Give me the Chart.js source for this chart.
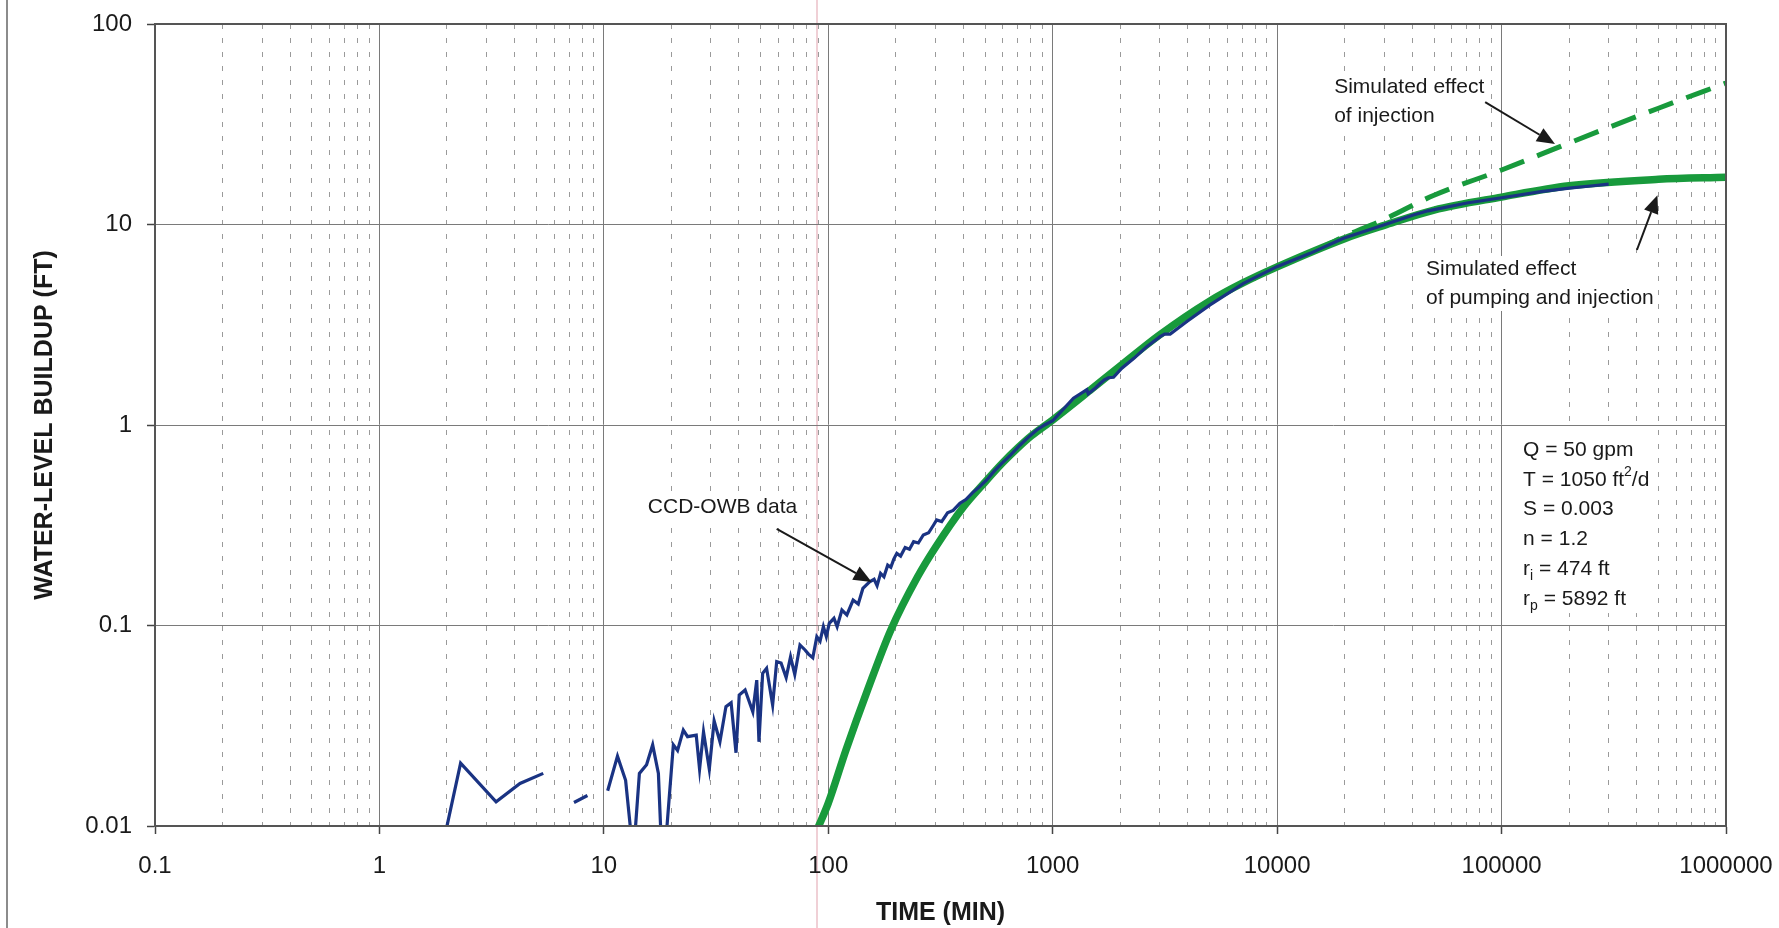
<!DOCTYPE html>
<html>
<head>
<meta charset="utf-8">
<title>Water-level buildup</title>
<script src="https://cdn.jsdelivr.net/npm/chart.js@4.4.1/dist/chart.umd.min.js"></script>
<style>
  html, body { margin: 0; padding: 0; background: #fff; }
  #wrap { width: 1779px; height: 928px; position: relative; }
</style>
</head>
<body>
<div id="wrap"><canvas id="buildupChart" width="1779" height="928"></canvas></div>
<script>
// axis decades and their labels
const xDecades = [0.1, 1, 10, 100, 1000, 10000, 100000, 1000000];
const xTickLabels = ['0.1', '1', '10', '100', '1000', '10000', '100000', '1000000'];
const yDecades = [0.01, 0.1, 1, 10, 100];
const yTickLabels = ['0.01', '0.1', '1', '10', '100'];

// CCD-OWB observed buildup (null = no record)
const blueTime = [1.98, 2.3, 3.31, 4.23, 5.37, 6.3, 7.36, 8.45, 9.3, 10.4, 11.5, 12.5, 13.3, 13.7, 14.4, 15.5, 16.5, 17.5, 18.0, 18.9,
  20.4, 21.3, 22.6, 23.6, 25.8, 26.7, 27.8, 29.5, 31.0, 32.9, 35.0, 36.9, 38.8, 40.1, 42.6, 46.1, 48.0, 49.1, 51.0, 53.1,
  56.5, 58.9, 61.6, 64.9, 67.9, 70.9, 74.8, 78.8, 81.6, 85.3, 88.9, 91.9, 95.1, 98.0, 101, 106, 109.5, 115, 121, 129,
  136, 142.6, 152.8, 160, 165, 171, 177, 184, 190, 196, 202, 210, 220, 230, 240, 252, 265, 280, 295, 304,
  320, 340, 360, 386, 410, 440, 470, 508, 550, 593, 650, 716, 780, 849, 920, 1000, 1237, 1419, 1440, 1550,
  1626, 1700, 1771, 1866, 2032, 2300, 2623, 3010, 3150, 3337, 3960, 5024, 7080, 9970, 14030, 19750, 29800, 40450, 47000, 70000,
  100000, 150000, 200000, 255000, 300000];
const blueLevel = [0.0095, 0.0206, 0.0132, 0.0163, 0.0183, null, 0.0131, 0.0142, null, 0.015, 0.0223, 0.0169, 0.0085, 0.0085, 0.0183, 0.0202, 0.0254, 0.0183, 0.0085, 0.0085,
  0.0254, 0.0238, 0.0301, 0.0279, 0.0284, 0.0192, 0.0295, 0.0192, 0.0334, 0.0263, 0.0394, 0.0412, 0.0232, 0.045, 0.0477, 0.0371, 0.0534, 0.0263, 0.0578, 0.0612,
  0.0401, 0.066, 0.065, 0.055, 0.0698, 0.057, 0.080, 0.0755, 0.072, 0.069, 0.088, 0.0835, 0.0987, 0.088, 0.1025, 0.1086, 0.0987, 0.1195, 0.113, 0.134,
  0.128, 0.153, 0.165, 0.17, 0.158, 0.182, 0.175, 0.2, 0.195, 0.215, 0.229, 0.222, 0.245, 0.24, 0.262, 0.258, 0.283, 0.29, 0.318, 0.336,
  0.33, 0.365, 0.375, 0.407, 0.425, 0.46, 0.49, 0.532, 0.59, 0.644, 0.71, 0.795, 0.87, 0.944, 1.0, 1.05, 1.36, 1.5, 1.43, 1.53,
  1.61, 1.68, 1.72, 1.73, 1.92, 2.15, 2.46, 2.76, 2.84, 2.84, 3.28, 3.97, 5.09, 6.16, 7.18, 8.53, 9.94, 11.15, 11.7, 12.8,
  13.6, 14.6, 15.2, 15.6, 15.9];

// simulated effect of pumping and injection
const pumpTime = [90, 100, 120, 150, 190, 250, 300, 400, 500, 600, 700, 800, 1000, 1500, 2000, 3000, 5000, 7000, 10000, 20000, 30000, 50000, 100000, 200000, 500000, 1000000];
const pumpLevel = [0.0098, 0.013, 0.024, 0.048, 0.095, 0.175, 0.245, 0.39, 0.52, 0.65, 0.77, 0.88, 1.06, 1.52, 1.97, 2.82, 4.15, 5.1, 6.15, 8.5, 9.9, 11.8, 13.7, 15.6, 16.8, 17.2];

// simulated effect of injection only
const injTime = [15000, 20000, 30000, 50000, 100000, 200000, 500000, 1000000];
const injLevel = [7.45, 8.75, 10.6, 14.0, 18.7, 25.5, 38, 50.8];

// callouts: text anchored at [time, level], arrows from -> to
const callouts = [
  { at: [17950, 48.5], lines: [[{ t: 'Simulated effect' }], [{ t: 'of injection' }]], from: [84500, 40.8], to: [173000, 25.2] },
  { at: [46100, 6.0], lines: [[{ t: 'Simulated effect' }], [{ t: 'of pumping and injection' }]], from: [401000, 7.46], to: [495000, 14.0] },
  { at: [15.7, 0.39], lines: [[{ t: 'CCD-OWB data' }]], from: [58.9, 0.303], to: [156, 0.165] }
];
const paramAnchor = [124700, 0.75];
const paramLines = [
  [{ t: 'Q = 50 gpm' }],
  [{ t: 'T = 1050 ft' }, { t: '2', sup: true }, { t: '/d' }],
  [{ t: 'S = 0.003' }],
  [{ t: 'n = 1.2' }],
  [{ t: 'r' }, { t: 'i', sub: true }, { t: ' = 474 ft' }],
  [{ t: 'r' }, { t: 'p', sub: true }, { t: ' = 5892 ft' }]
];

const FONT = '"Liberation Sans", Arial, Helvetica, sans-serif';
Chart.defaults.font.family = FONT;
Chart.defaults.color = '#1a1a1a';

const onDecade = (list, v) => list.some(d => Math.abs(v / d - 1) < 1e-9);
const xGridValues = [];
xDecades.forEach((d, i) => {
  for (let k = 1; k <= 9; k++) {
    if (i === xDecades.length - 1 && k > 1) break;
    xGridValues.push(k === 1 ? d : d * k);
  }
});

function toPoints(xs, ys) {
  return xs.map((x, i) => ({ x: x, y: ys[i] }));
}

function lineWidthOf(ctx, segs) {
  let w = 0;
  segs.forEach(s => {
    ctx.font = (s.sub || s.sup ? '14px ' : '21px ') + FONT;
    w += ctx.measureText(s.t).width;
  });
  return w;
}

function drawSegs(ctx, segs, x, y) {
  segs.forEach(s => {
    let dy = 0;
    if (s.sub) dy = 7;
    if (s.sup) dy = -8;
    ctx.font = (s.sub || s.sup ? '14px ' : '21px ') + FONT;
    ctx.fillText(s.t, x, y + dy);
    x += ctx.measureText(s.t).width;
  });
}

function drawArrow(ctx, x1, y1, x2, y2) {
  const ang = Math.atan2(y2 - y1, x2 - x1);
  const head = 18, half = 7.5;
  const bx = x2 - head * Math.cos(ang), by = y2 - head * Math.sin(ang);
  ctx.strokeStyle = '#1a1a1a';
  ctx.fillStyle = '#1a1a1a';
  ctx.lineWidth = 2;
  ctx.beginPath();
  ctx.moveTo(x1, y1);
  ctx.lineTo(bx, by);
  ctx.stroke();
  ctx.beginPath();
  ctx.moveTo(x2, y2);
  ctx.lineTo(bx + half * Math.sin(ang), by - half * Math.cos(ang));
  ctx.lineTo(bx - half * Math.sin(ang), by + half * Math.cos(ang));
  ctx.closePath();
  ctx.fill();
}

const notesPlugin = {
  id: 'notes',
  beforeDraw(chart) {
    // scanned page edge and a faint scan streak
    const ctx = chart.ctx;
    ctx.save();
    ctx.strokeStyle = '#8c8c8c';
    ctx.lineWidth = 2;
    ctx.beginPath();
    ctx.moveTo(7, 0);
    ctx.lineTo(7, chart.height);
    ctx.stroke();
    ctx.strokeStyle = 'rgba(236, 196, 204, 0.8)';
    ctx.beginPath();
    ctx.moveTo(817, 0);
    ctx.lineTo(817, chart.height);
    ctx.stroke();
    ctx.restore();
  },
  afterDatasetsDraw(chart) {
    const ctx = chart.ctx;
    const xs = chart.scales.x, ys = chart.scales.y;
    const px = v => xs.getPixelForValue(v);
    const py = v => ys.getPixelForValue(v);
    const area = chart.chartArea;
    ctx.save();
    ctx.textBaseline = 'middle';
    ctx.textAlign = 'left';

    // frame
    ctx.strokeStyle = '#555';
    ctx.lineWidth = 2;
    ctx.strokeRect(area.left, area.top, area.right - area.left, area.bottom - area.top);

    // callouts
    callouts.forEach(c => {
      const x0 = px(c.at[0]), y0 = py(c.at[1]);
      const step = 29;
      const w = Math.max(...c.lines.map(l => lineWidthOf(ctx, l)));
      ctx.fillStyle = '#fff';
      ctx.fillRect(x0 - 4, y0 - 13, w + 8, step * (c.lines.length - 1) + 26);
      ctx.fillStyle = '#1a1a1a';
      c.lines.forEach((l, i) => drawSegs(ctx, l, x0, y0 + i * step));
      drawArrow(ctx, px(c.from[0]), py(c.from[1]), px(c.to[0]), py(c.to[1]));
    });

    // parameter box
    const bx = px(paramAnchor[0]), by = py(paramAnchor[1]);
    const pStep = 29.8;
    const pw = Math.max(...paramLines.map(l => lineWidthOf(ctx, l)));
    ctx.fillStyle = '#fff';
    ctx.fillRect(bx - 19, by - 22, pw + 25, pStep * (paramLines.length - 1) + 36);
    ctx.fillStyle = '#1a1a1a';
    paramLines.forEach((l, i) => drawSegs(ctx, l, bx, by + i * pStep));
    ctx.restore();
  }
};

const ctx = document.getElementById('buildupChart').getContext('2d');
new Chart(ctx, {
  type: 'line',
  data: {
    datasets: [
      {
        label: 'CCD-OWB data',
        data: toPoints(blueTime, blueLevel),
        borderColor: '#1a3383',
        borderWidth: 3.2,
        pointRadius: 0,
        tension: 0,
        spanGaps: false,
        clip: 1
      },
      {
        label: 'Simulated effect of injection',
        data: toPoints(injTime, injLevel),
        borderColor: '#189a3c',
        borderWidth: 5,
        borderDash: [26, 14],
        pointRadius: 0,
        cubicInterpolationMode: 'monotone',
        clip: 1
      },
      {
        label: 'Simulated effect of pumping and injection',
        data: toPoints(pumpTime, pumpLevel),
        borderColor: '#189a3c',
        borderWidth: 7.5,
        pointRadius: 0,
        cubicInterpolationMode: 'monotone',
        clip: 1
      }
    ]
  },
  options: {
    responsive: false,
    animation: false,
    layout: { padding: { left: 0, right: 53, top: 24, bottom: 0 } },
    plugins: {
      legend: { display: false },
      tooltip: { enabled: false }
    },
    scales: {
      x: {
        type: 'logarithmic',
        min: 0.1,
        max: 1000000,
        afterBuildTicks: s => { s.ticks = xGridValues.map(v => ({ value: v })); },
        afterFit: s => { s.height = 102; s.paddingLeft = 0; s.paddingRight = 0; },
        grid: {
          color: c => (c.tick && onDecade(xDecades, c.tick.value)) ? '#7a7a7a' : '#9a9a9a',
          lineWidth: 1,
          tickLength: 8,
          tickWidth: 1.5,
          tickColor: c => (c.tick && onDecade(xDecades, c.tick.value)) ? '#444' : 'rgba(0,0,0,0)'
        },
        border: {
          display: true,
          color: '#444',
          width: 2,
          dash: c => (c.tick && !onDecade(xDecades, c.tick.value)) ? [5, 9] : []
        },
        ticks: {
          autoSkip: false,
          maxRotation: 0,
          padding: 18,
          font: { size: 24 },
          callback: v => {
            const i = xDecades.findIndex(d => Math.abs(v / d - 1) < 1e-9);
            return i >= 0 ? xTickLabels[i] : '';
          }
        },
        title: {
          display: true,
          text: 'TIME (MIN)',
          font: { size: 25, weight: 'bold' },
          padding: { top: 0, bottom: 0 }
        }
      },
      y: {
        type: 'logarithmic',
        min: 0.01,
        max: 100,
        afterBuildTicks: s => { s.ticks = yDecades.map(v => ({ value: v })); },
        afterFit: s => { s.width = 155; s.paddingTop = 0; s.paddingBottom = 0; },
        grid: {
          color: '#7a7a7a',
          lineWidth: 1,
          tickLength: 8,
          tickWidth: 1.5,
          tickColor: '#444'
        },
        border: { display: true, color: '#444', width: 2 },
        ticks: {
          autoSkip: false,
          padding: 15,
          font: { size: 24 },
          callback: v => {
            const i = yDecades.findIndex(d => Math.abs(v / d - 1) < 1e-9);
            return i >= 0 ? yTickLabels[i] : '';
          }
        },
        title: {
          display: true,
          text: 'WATER-LEVEL BUILDUP (FT)',
          font: { size: 25, weight: 'bold' },
          padding: { top: 30, bottom: 0 }
        }
      }
    }
  },
  plugins: [notesPlugin]
});
</script>
</body>
</html>
